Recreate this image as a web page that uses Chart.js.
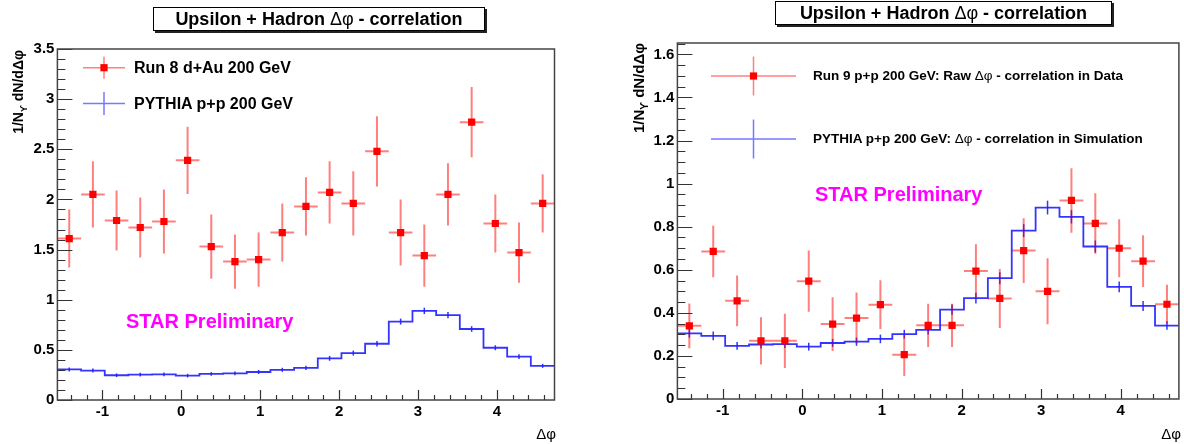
<!DOCTYPE html>
<html>
<head>
<meta charset="utf-8">
<script src="https://cdn.jsdelivr.net/npm/chart.js@4.4.0/dist/chart.umd.min.js"></script>
<style>
  body { margin: 0; background: #fff; width: 1184px; height: 444px; position: relative; overflow: hidden;
         font-family: "Liberation Sans", Arial, sans-serif; }
  canvas { position: absolute; top: 0; }
  #chartDau { left: 0; }
  #chartPp { left: 592px; }
  .titleBox { position: absolute; box-sizing: border-box; height: 24px; background: #fff; border: 1px solid #000;
              box-shadow: 2px 2px 0 #222; font-weight: bold; font-size: 18px; line-height: 22px; text-align: center; white-space: nowrap; }
  .txt { position: absolute; white-space: nowrap; font-weight: bold; }
  .sym { font-weight: normal; }
  .star { color: #ff00ff; font-size: 20px; line-height: 24px; }
  .ylab { position: absolute; width: 200px; height: 20px; line-height: 20px; text-align: right; font-weight: bold;
          transform: rotate(-90deg); white-space: nowrap; }
  .xlab { position: absolute; font-size: 15px; line-height: 18px; text-align: right; width: 40px; }
</style>
</head>
<body>
<canvas id="chartDau" width="592" height="444"></canvas>
<canvas id="chartPp" width="592" height="444"></canvas>

<div class="titleBox" style="left:153px; top:7px; width:332px;">Upsilon + Hadron <span class="sym">Δφ</span> - correlation</div>
<div class="titleBox" style="left:775px; top:1px; width:337px;">Upsilon + Hadron <span class="sym">Δφ</span> - correlation</div>

<div class="txt" style="left:134px; top:58px; font-size:16px; line-height:20px;">Run 8 d+Au 200 GeV</div>
<div class="txt" style="left:134px; top:94px; font-size:16px; line-height:20px;">PYTHIA p+p 200 GeV</div>
<div class="txt" style="left:813px; top:67px; font-size:13.5px; line-height:18px;">Run 9 p+p 200 GeV: Raw <span class="sym">Δφ</span> - correlation in Data</div>
<div class="txt" style="left:813px; top:130px; font-size:13.5px; line-height:18px;">PYTHIA p+p 200 GeV: <span class="sym">Δφ</span> - correlation in Simulation</div>

<div class="txt star" style="left:126px; top:309px;">STAR Preliminary</div>
<div class="txt star" style="left:815px; top:182px;">STAR Preliminary</div>

<div class="ylab" style="left:-82px; top:140px; font-size:14px;">1/N<sub style="font-size:9px">ϒ</sub> dN/dΔφ</div>
<div class="ylab" style="left:539px; top:133px; font-size:15px;">1/N<sub style="font-size:10px">ϒ</sub> dN/dΔφ</div>

<div class="xlab" style="left:516px; top:425px;">Δφ</div>
<div class="xlab" style="left:1141px; top:425px;">Δφ</div>

<script>
// bins in delta phi, width 0.3, from -pi/2
const binCenters = [-1.42, -1.12, -0.82, -0.52, -0.22, 0.08, 0.38, 0.68, 0.98, 1.28, 1.58,
                    1.88, 2.18, 2.48, 2.78, 3.08, 3.38, 3.68, 3.98, 4.28, 4.58];
const binHalfWidth = 0.15;
const xMin = -1.57;
const xMax = 4.73;

// Run 8 d+Au
const dAuValues = [1.61, 2.05, 1.79, 1.72, 1.78, 2.39, 1.53, 1.38, 1.40, 1.67, 1.93,
                   2.07, 1.96, 2.48, 1.67, 1.44, 2.05, 2.77, 1.76, 1.47, 1.96];
const dAuErrors = [0.29, 0.33, 0.30, 0.30, 0.32, 0.335, 0.32, 0.27, 0.27, 0.29, 0.29,
                   0.31, 0.32, 0.35, 0.33, 0.31, 0.31, 0.35, 0.29, 0.30, 0.29];

// Run 9 p+p
const ppValues = [0.34, 0.685, 0.456, 0.27, 0.27, 0.547, 0.348, 0.376, 0.438, 0.206, 0.342,
                  0.342, 0.594, 0.467, 0.689, 0.50, 0.922, 0.815, 0.70, 0.64, 0.44];
const ppErrors = [0.104, 0.12, 0.118, 0.11, 0.126, 0.142, 0.125, 0.119, 0.113, 0.099, 0.10,
                  0.10, 0.125, 0.137, 0.15, 0.153, 0.15, 0.14, 0.135, 0.12, 0.09];

// PYTHIA p+p
const pythiaValues = [0.305, 0.293, 0.247, 0.253, 0.255, 0.243, 0.26, 0.266, 0.279, 0.301, 0.321,
                      0.415, 0.468, 0.561, 0.782, 0.889, 0.846, 0.708, 0.521, 0.432, 0.341];
const pythiaErrors = [0.02, 0.02, 0.018, 0.018, 0.018, 0.018, 0.018, 0.019, 0.02, 0.02, 0.021,
                      0.024, 0.025, 0.028, 0.03, 0.032, 0.031, 0.028, 0.025, 0.023, 0.02];

const xTicks = [-1, 0, 1, 2, 3, 4];
const dAuYTicks = [0, 0.5, 1, 1.5, 2, 2.5, 3, 3.5];
const ppYTicks = [0, 0.2, 0.4, 0.6, 0.8, 1, 1.2, 1.4, 1.6];

const paineis = [
    { idCanvas: 'chartDau', valores: dAuValues, erros: dAuErrors, yMax: 3.5, yTicks: dAuYTicks,
      yMajor: 0.5, yMinor: 0.1, area: { left: 57.4, right: 554.5, top: 49, bottom: 400 },
      legenda: { x: 104, yRed: 67.7, redV: 11, yBlue: 103.5, blueV: 11.5, half: 21 } },
    { idCanvas: 'chartPp', valores: ppValues, erros: ppErrors, yMax: 1.653, yTicks: ppYTicks,
      yMajor: 0.2, yMinor: 0.05, area: { left: 85.4, right: 590, top: 43, bottom: 399 },
      legenda: { x: 161.5, yRed: 76, redV: 19.5, yBlue: 139, blueV: 19.5, half: 42.5 } }
];

const RED = '#ff0000';
const RED_BAR = 'rgba(255,0,0,0.5)';
const BLUE = 'rgba(30,30,255,0.9)';

const errorBarsPlugin = {
    id: 'errorBars',
    beforeDatasetsDraw(chart, args, opts) {
        const { ctx, scales: { x, y } } = chart;
        ctx.save();
        // PYTHIA small vertical error ticks
        ctx.strokeStyle = BLUE;
        ctx.lineWidth = 1.5;
        binCenters.forEach((c, i) => {
            const px = x.getPixelForValue(c);
            ctx.beginPath();
            ctx.moveTo(px, y.getPixelForValue(pythiaValues[i] - pythiaErrors[i]));
            ctx.lineTo(px, y.getPixelForValue(pythiaValues[i] + pythiaErrors[i]));
            ctx.stroke();
        });
        // data error bars
        ctx.strokeStyle = RED_BAR;
        ctx.lineWidth = 2;
        binCenters.forEach((c, i) => {
            const px = x.getPixelForValue(c);
            const py = y.getPixelForValue(opts.valores[i]);
            ctx.beginPath();
            ctx.moveTo(px, y.getPixelForValue(opts.valores[i] - opts.erros[i]));
            ctx.lineTo(px, y.getPixelForValue(opts.valores[i] + opts.erros[i]));
            ctx.moveTo(x.getPixelForValue(c - binHalfWidth), py);
            ctx.lineTo(x.getPixelForValue(c + binHalfWidth), py);
            ctx.stroke();
        });
        ctx.restore();
    }
};

const framePlugin = {
    id: 'frameTicks',
    afterDatasetsDraw(chart, args, opts) {
        const { ctx, chartArea: a, scales: { x, y } } = chart;
        ctx.save();
        ctx.strokeStyle = '#333';
        ctx.lineWidth = 1.2;
        ctx.beginPath();
        // y ticks, inside the frame
        for (let i = 0; i * opts.yMinor <= opts.yMax + 1e-9; i++) {
            const v = i * opts.yMinor;
            const major = Math.abs(v / opts.yMajor - Math.round(v / opts.yMajor)) < 1e-6;
            const py = Math.round(y.getPixelForValue(v)) + 0.5;
            ctx.moveTo(a.left, py);
            ctx.lineTo(a.left + (major ? 15 : 8), py);
        }
        // x ticks, every 0.2
        for (let i = Math.ceil(xMin / 0.2); i * 0.2 <= xMax; i++) {
            const v = i * 0.2;
            const major = i % 5 === 0;
            const px = Math.round(x.getPixelForValue(v)) + 0.5;
            ctx.moveTo(px, a.bottom);
            ctx.lineTo(px, a.bottom - (major ? 10 : 5));
        }
        ctx.stroke();
        ctx.strokeStyle = '#444';
        ctx.lineWidth = 1.5;
        ctx.strokeRect(a.left, a.top, a.right - a.left, a.bottom - a.top);
        ctx.restore();
    },
    afterDraw(chart, args, opts) {
        // legend symbols
        const { ctx } = chart;
        const l = opts.legenda;
        ctx.save();
        ctx.lineWidth = 1.5;
        ctx.strokeStyle = RED_BAR;
        ctx.beginPath();
        ctx.moveTo(l.x - l.half, l.yRed); ctx.lineTo(l.x + l.half, l.yRed);
        ctx.moveTo(l.x, l.yRed - l.redV); ctx.lineTo(l.x, l.yRed + l.redV);
        ctx.stroke();
        ctx.fillStyle = RED;
        ctx.fillRect(l.x - 3.6, l.yRed - 3.6, 7.2, 7.2);
        ctx.strokeStyle = 'rgba(30,30,255,0.6)';
        ctx.beginPath();
        ctx.moveTo(l.x - l.half, l.yBlue); ctx.lineTo(l.x + l.half, l.yBlue);
        ctx.moveTo(l.x, l.yBlue - l.blueV); ctx.lineTo(l.x, l.yBlue + l.blueV);
        ctx.stroke();
        ctx.restore();
    }
};

function formatarTick(valor) {
    return String(+valor.toFixed(2));
}

function construirPainel(p) {
    const ctx = document.getElementById(p.idCanvas).getContext('2d');
    const largura = 592, altura = 444;

    // histogram outline from bin low edges plus the last upper edge
    const histo = binCenters.map((c, i) => ({ x: c - binHalfWidth, y: pythiaValues[i] }));
    histo.push({ x: binCenters[binCenters.length - 1] + binHalfWidth, y: pythiaValues[pythiaValues.length - 1] });

    const pontos = binCenters.map((c, i) => ({ x: c, y: p.valores[i] }));

    new Chart(ctx, {
        type: 'scatter',
        data: {
            datasets: [
                { type: 'line', data: histo, stepped: 'before', borderColor: BLUE, borderWidth: 1.8,
                  pointRadius: 0, fill: false, order: 2 },
                { data: pontos, pointStyle: 'rect', pointRadius: 5.1, backgroundColor: RED,
                  borderWidth: 0, order: 1 }
            ]
        },
        options: {
            responsive: false,
            devicePixelRatio: 1,
            animation: false,
            events: [],
            layout: { padding: { top: p.area.top, right: largura - p.area.right, left: 0, bottom: 0 } },
            plugins: {
                legend: { display: false },
                tooltip: { enabled: false },
                errorBars: { valores: p.valores, erros: p.erros },
                frameTicks: { yMax: p.yMax, yMajor: p.yMajor, yMinor: p.yMinor, legenda: p.legenda }
            },
            scales: {
                x: {
                    type: 'linear', min: xMin, max: xMax,
                    grid: { display: false, drawTicks: false }, border: { display: false },
                    afterBuildTicks: s => { s.ticks = xTicks.map(v => ({ value: v })); },
                    afterFit: s => { s.height = altura - p.area.bottom; },
                    ticks: { color: '#000', padding: 3, maxRotation: 0, callback: formatarTick,
                             font: { family: 'Liberation Sans', weight: 'bold', size: 15 } }
                },
                y: {
                    type: 'linear', min: 0, max: p.yMax,
                    grid: { display: false, drawTicks: false }, border: { display: false },
                    afterBuildTicks: s => { s.ticks = p.yTicks.map(v => ({ value: v })); },
                    afterFit: s => { s.width = p.area.left; },
                    ticks: { color: '#000', padding: 3, callback: formatarTick,
                             font: { family: 'Liberation Sans', weight: 'bold', size: 15 } }
                }
            }
        },
        plugins: [errorBarsPlugin, framePlugin]
    });
}

paineis.forEach(construirPainel);
</script>
</body>
</html>
